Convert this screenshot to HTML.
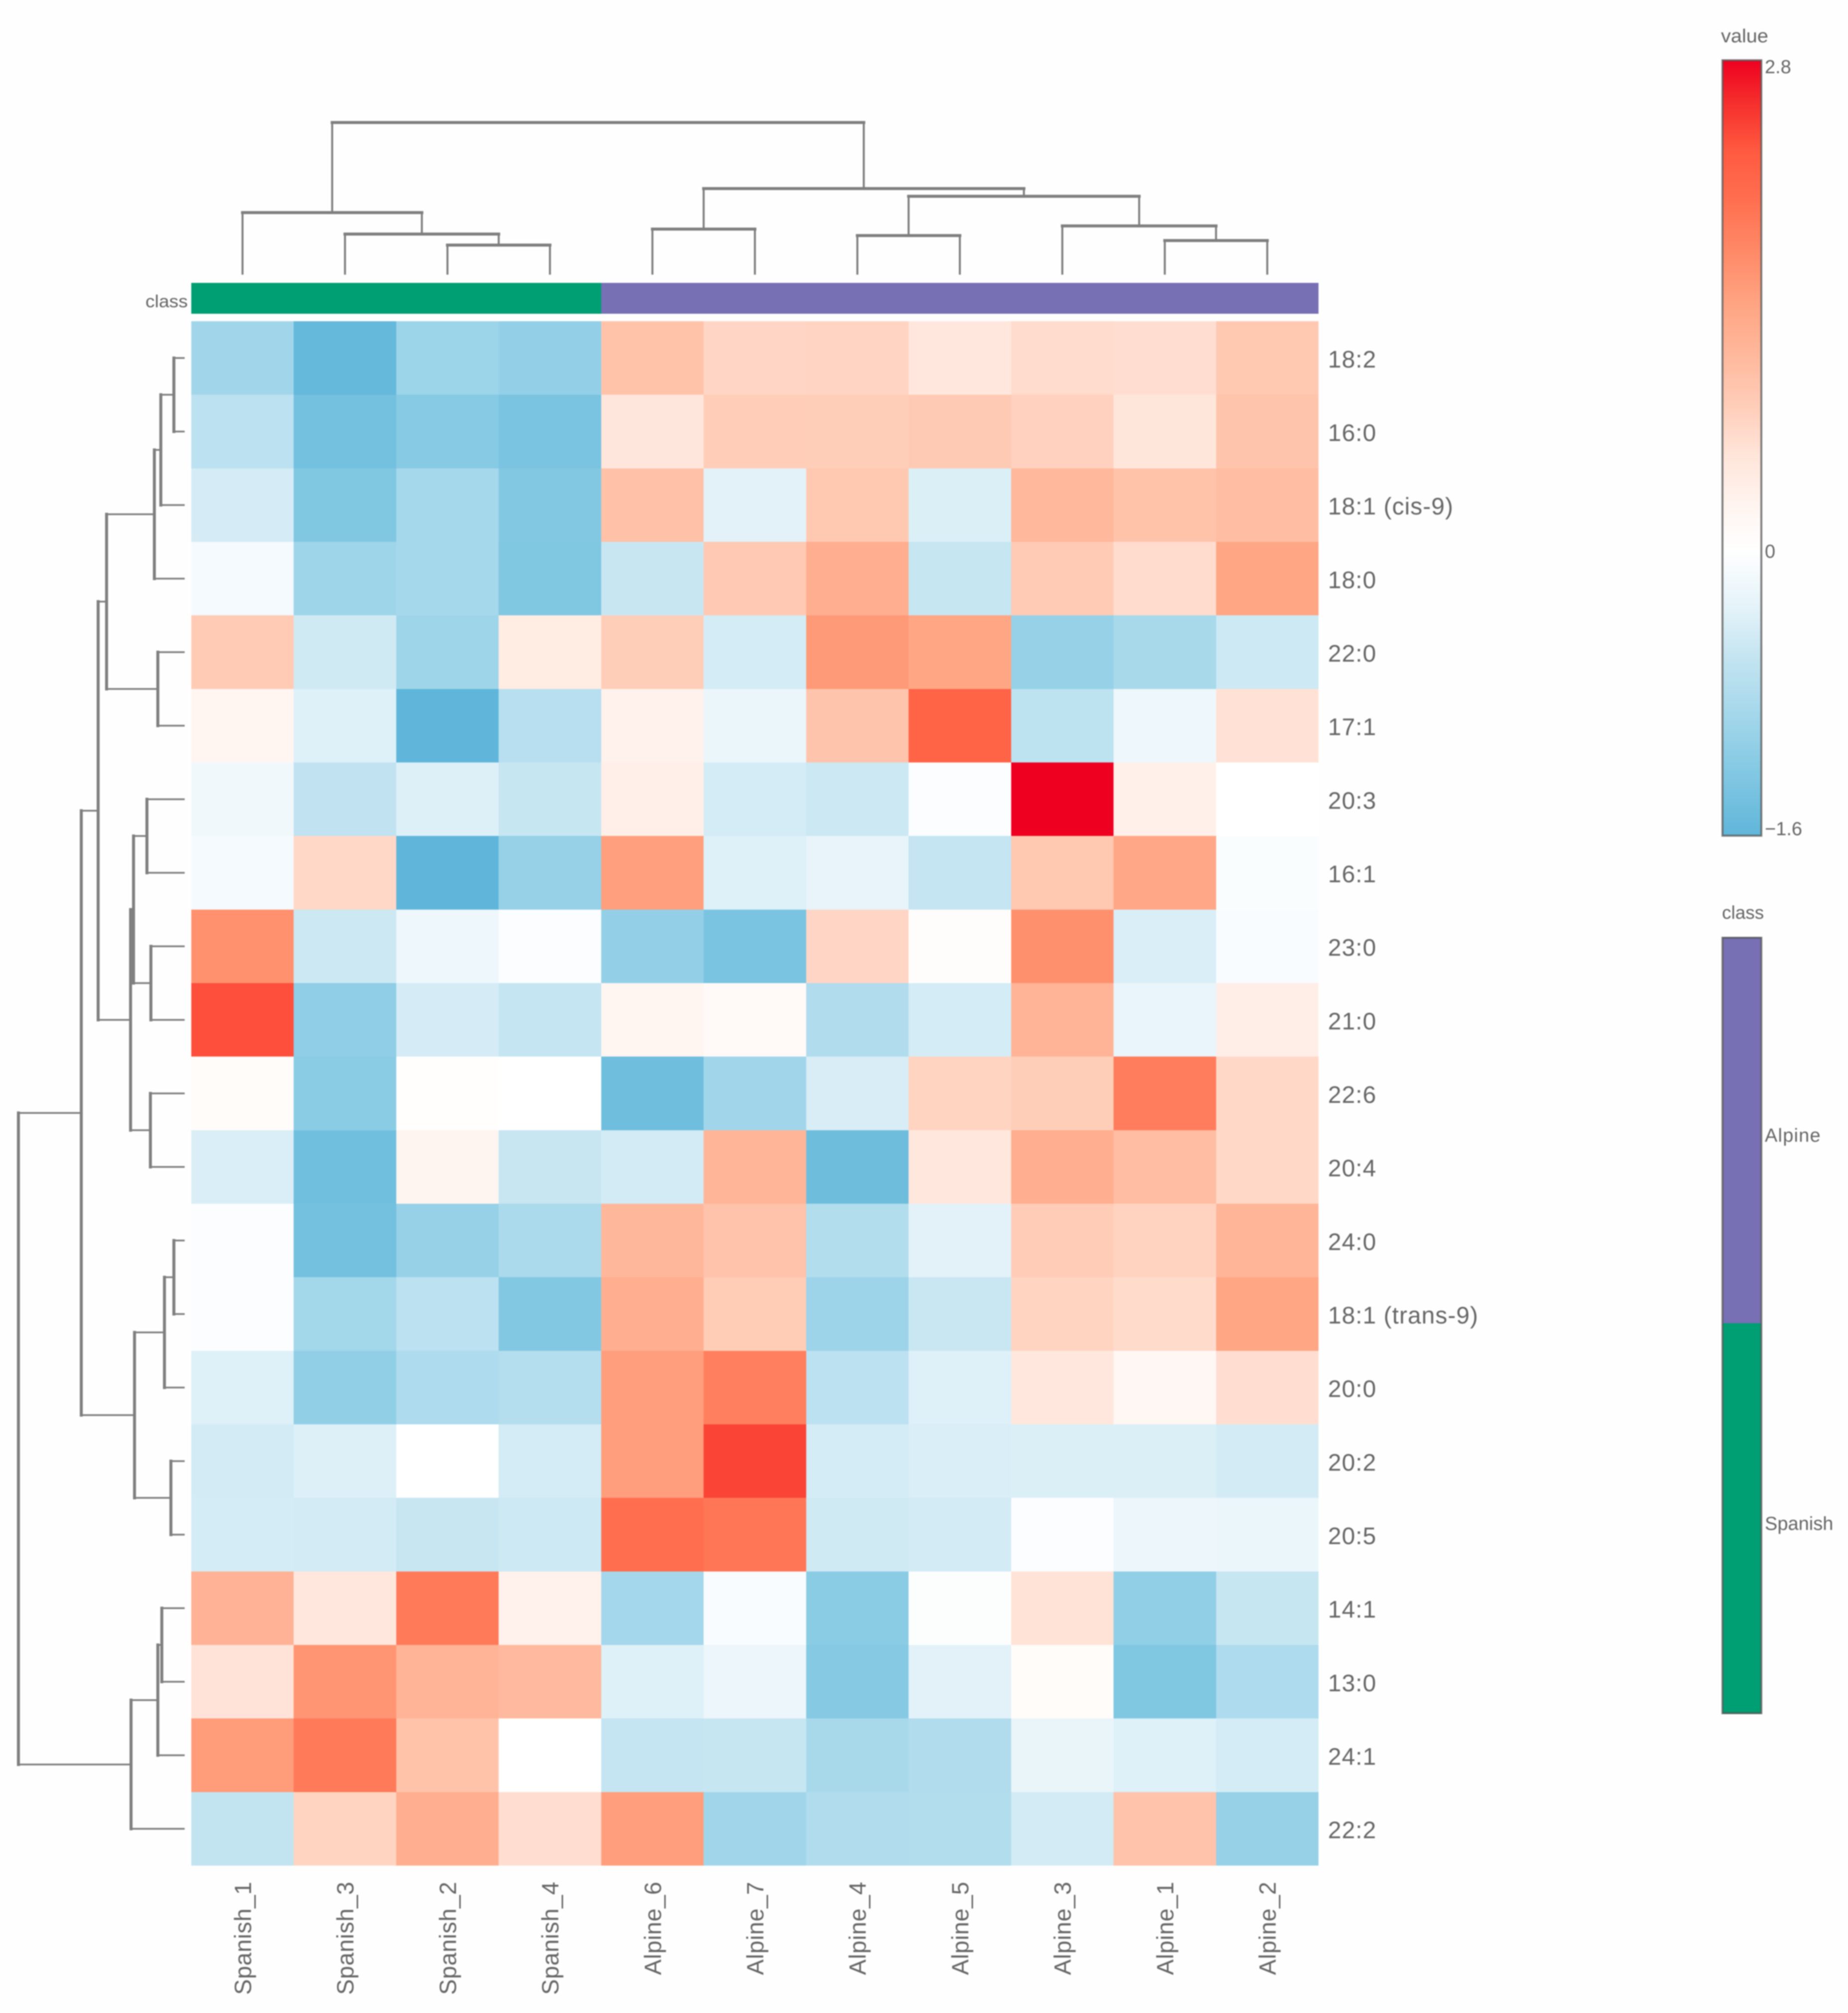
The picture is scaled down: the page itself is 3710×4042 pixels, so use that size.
<!DOCTYPE html>
<html lang="en">
<head>
<meta charset="utf-8">
<title>Clustered heatmap of fatty acids</title>
<style>
html,body{margin:0;padding:0;background:#fefefe;overflow:hidden;}
#chart{display:block;width:3710px;height:4042px;filter:blur(1px);}
text{font-family:"Liberation Sans",sans-serif;fill:#666;}
</style>
</head>
<body>
<svg id="chart" xmlns="http://www.w3.org/2000/svg" width="3710" height="4042" viewBox="0 0 3710 4042">
<defs><linearGradient id="cbar-gradient" gradientUnits="userSpaceOnUse" x1="0" x2="0" y1="120" y2="1679"></linearGradient></defs>
<rect width="3710" height="4042" fill="#fefefe"></rect>
<g id="top-dendro"></g>
<g id="left-dendro"></g>
<g id="annotation"></g>
<g id="cells"></g>
<g id="x-labels"></g>
<g id="y-labels"></g>
<g id="colorbar"></g>
<g id="class-legend"></g>
</svg>
<script>
const columns = ["Spanish_1","Spanish_3","Spanish_2","Spanish_4","Alpine_6","Alpine_7","Alpine_4","Alpine_5","Alpine_3","Alpine_1","Alpine_2"];
const rows = ["18:2","16:0","18:1 (cis-9)","18:0","22:0","17:1","20:3","16:1","23:0","21:0","22:6","20:4","24:0","18:1 (trans-9)","20:0","20:2","20:5","14:1","13:0","24:1","22:2"];
const columnClass = ["Spanish","Spanish","Spanish","Spanish","Alpine","Alpine","Alpine","Alpine","Alpine","Alpine","Alpine"];
const values = [
[-0.95,-1.55,-1.0,-1.08,0.97,0.72,0.74,0.5,0.65,0.62,0.9],
[-0.68,-1.4,-1.2,-1.33,0.52,0.83,0.82,0.87,0.78,0.53,0.95],
[-0.45,-1.27,-0.9,-1.25,1.0,-0.33,0.9,-0.4,1.12,0.97,1.05],
[-0.13,-0.97,-0.9,-1.27,-0.57,0.88,1.27,-0.58,0.86,0.65,1.38],
[0.86,-0.5,-0.97,0.42,0.82,-0.46,1.52,1.38,-1.05,-0.88,-0.52],
[0.22,-0.37,-1.6,-0.72,0.3,-0.24,0.95,2.15,-0.67,-0.2,0.58],
[-0.17,-0.63,-0.38,-0.58,0.35,-0.46,-0.54,-0.05,2.8,0.33,0],
[-0.13,0.7,-1.6,-1.05,1.47,-0.37,-0.27,-0.6,0.9,1.36,-0.06],
[1.62,-0.54,-0.2,-0.05,-1.08,-1.33,0.72,0.06,1.63,-0.42,-0.07],
[2.35,-1.12,-0.45,-0.6,0.22,0.12,-0.8,-0.46,1.18,-0.26,0.37],
[0.08,-1.16,0.03,0,-1.45,-0.95,-0.43,0.75,0.82,1.85,0.7],
[-0.42,-1.43,0.25,-0.57,-0.47,1.16,-1.46,0.5,1.27,1.05,0.7],
[-0.04,-1.4,-1.05,-0.86,1.13,0.98,-0.78,-0.33,0.84,0.76,1.16],
[-0.05,-0.93,-0.68,-1.24,1.25,0.85,-0.98,-0.56,0.75,0.66,1.38],
[-0.37,-1.1,-0.82,-0.76,1.48,1.82,-0.68,-0.37,0.5,0.2,0.62],
[-0.48,-0.38,0,-0.46,1.48,2.42,-0.46,-0.42,-0.4,-0.4,-0.47],
[-0.46,-0.48,-0.57,-0.52,2.0,1.92,-0.5,-0.48,-0.05,-0.22,-0.24],
[1.2,0.5,1.88,0.32,-0.92,-0.07,-1.17,-0.03,0.57,-1.1,-0.58],
[0.56,1.58,1.18,1.1,-0.37,-0.22,-1.22,-0.33,0.08,-1.27,-0.82],
[1.5,1.88,0.97,0,-0.6,-0.58,-0.88,-0.8,-0.25,-0.37,-0.46],
[-0.62,0.75,1.27,0.62,1.48,-0.95,-0.8,-0.78,-0.47,0.98,-1.05]
];
const columnMerges = [[2,3,1.89],[1,11,2.62],[0,12,4.04],[4,5,2.95],[6,7,2.52],[9,10,2.19],[8,16,3.16],[15,17,5.12],[14,18,5.63],[13,19,10]];
const rowMerges = [[0,1,0.6],[21,2,1.39],[22,3,1.78],[4,5,1.57],[23,24,4.67],[6,7,2.23],[8,9,1.99],[26,27,3.04],[10,11,2.02],[28,29,3.22],[25,30,5.18],[12,13,0.6],[32,14,1.17],[15,16,0.78],[33,34,2.98],[31,35,6.2],[17,18,1.33],[37,19,1.57],[38,20,3.19],[36,39,10]];
const colorbarTicks = [2.8,0,-1.6];
const colorbarTickLabels = ["2.8","0","\u22121.6"];
const scaleValues = [-1.6,-1.19,-0.9,-0.61,-0.33,0,0.25,0.54,0.83,1.12,1.41,1.7,1.99,2.28,2.57,2.8];
const scaleColors = ["#60b6da","#88cbe4","#a6d8eb","#c3e4f1","#e3f2f9","#ffffff","#fff5f0","#ffe5da","#ffcdb8","#ffb89c","#ffa482","#ff8a68","#ff7050","#ff5a40","#f52c2c","#ee0020"];
const legendClasses = ["Alpine","Spanish"];
const legendCounts = [1,1];

const NS = "http://www.w3.org/2000/svg";
const plot = {left:384,right:2647,top:645,bottom:3746};
const classColor = {Spanish:"#009e73",Alpine:"#7770b4"};

function xBand(i){return plot.left + (plot.right-plot.left)*i/columns.length;}
function yBand(j){return plot.top + (plot.bottom-plot.top)*j/rows.length;}
function xCenter(i){return xBand(i+0.5);}
function yCenter(j){return yBand(j+0.5);}
function topDendroY(h){return 549.5 - h*30.35;}
function leftDendroX(h){return 369 - h*33.2;}
function cbY(v){return v>=0 ? 120+(2.8-v)/2.8*985 : 1105+(-v)/1.6*574;}

function hex(c){return [1,3,5].map(k=>parseInt(c.substr(k,2),16));}
function colorOf(v){
  const n = scaleValues.length;
  if(v<=scaleValues[0]) return scaleColors[0];
  if(v>=scaleValues[n-1]) return scaleColors[n-1];
  let k = 0;
  while(scaleValues[k+1]<v) k++;
  const t = (v-scaleValues[k])/(scaleValues[k+1]-scaleValues[k]);
  const a = hex(scaleColors[k]), b = hex(scaleColors[k+1]);
  return "rgb("+a.map((x,m)=>Math.round(x+(b[m]-x)*t)).join(",")+")";
}
function make(tag,attrs,parent,content){
  const e = document.createElementNS(NS,tag);
  for(const k in attrs) e.setAttribute(k,attrs[k]);
  if(content!==undefined) e.textContent = content;
  parent.appendChild(e);
  return e;
}

/* heatmap cells */
const cellsG = document.getElementById("cells");
values.forEach((row,j)=>row.forEach((v,i)=>{
  const r = make("rect",{x:xBand(i),y:yBand(j),width:xBand(i+1)-xBand(i),height:yBand(j+1)-yBand(j),fill:colorOf(v),"shape-rendering":"crispEdges"},cellsG);
  
  
}));

/* annotation */
const annG = document.getElementById("annotation");
columnClass.forEach((c,i)=>{
  const r = make("rect",{x:xBand(i),y:568,width:xBand(i+1)-xBand(i),height:62,fill:classColor[c],"shape-rendering":"crispEdges"},annG);
  
  
});
const annLabel = make("text",{x:377,y:617,"text-anchor":"end","font-size":35,textLength:85,lengthAdjust:"spacingAndGlyphs"},annG,"class");



/* x labels */
const xG = document.getElementById("x-labels");
columns.forEach((c,i)=>{
  const cx = xCenter(i)+17;
  const t = make("text",{x:cx,y:3778,"font-size":47,"letter-spacing":0.6,"text-anchor":"end",transform:"rotate(-90 "+cx+" 3778)"},xG,c);
  
  
});

/* y labels */
const yG = document.getElementById("y-labels");
rows.forEach((c,j)=>{
  const t = make("text",{x:2666,y:yCenter(j)+19,"font-size":48,"letter-spacing":1},yG,c);
  
  
});

/* dendrograms */
function dendro(merges,nLeaves,leafPos,heightPos,group,vertical){
  const nodes = [];
  for(let i=0;i<nLeaves;i++) nodes.push({p:leafPos(i),h:0});
  merges.forEach(m=>{
    const a = nodes[m[0]], b = nodes[m[1]], h = m[2];
    const ha = heightPos(a.h), hb = heightPos(b.h), hn = heightPos(h);
    const stemW = vertical?4:3.5, barW = 6;
    const style = {stroke:"#7f7f7f",fill:"none","stroke-linecap":"square"};
    const s1 = make("line",Object.assign({},style,vertical?{x1:a.p,x2:a.p,y1:ha,y2:hn}:{y1:a.p,y2:a.p,x1:ha,x2:hn},{"stroke-width":stemW}),group);
    
    
    const s2 = make("line",Object.assign({},style,vertical?{x1:b.p,x2:b.p,y1:hb,y2:hn}:{y1:b.p,y2:b.p,x1:hb,x2:hn},{"stroke-width":stemW}),group);
    
    
    const s3 = make("line",Object.assign({},style,vertical?{x1:a.p,x2:b.p,y1:hn,y2:hn}:{y1:a.p,y2:b.p,x1:hn,x2:hn},{"stroke-width":barW}),group);
    
    
    nodes.push({p:(a.p+b.p)/2,h:h});
  });
}
dendro(columnMerges,columns.length,xCenter,topDendroY,document.getElementById("top-dendro"),true);
dendro(rowMerges,rows.length,yCenter,leftDendroX,document.getElementById("left-dendro"),false);

/* colorbar */
const grad = document.getElementById("cbar-gradient");
scaleValues.slice().reverse().forEach((v,k)=>{
  make("stop",{offset:(cbY(v)-120)/(1679-120),"stop-color":scaleColors[scaleColors.length-1-k]},grad);
});
const cbG = document.getElementById("colorbar");
const cbTitle = make("text",{x:3455,y:85,"font-size":38,textLength:95,lengthAdjust:"spacingAndGlyphs"},cbG,"value");


const cbRect = make("rect",{x:3458,y:121,width:78,height:1557,fill:"url(#cbar-gradient)",stroke:"#555","stroke-opacity":0.75,"stroke-width":4},cbG);


colorbarTicks.forEach((v,k)=>{
  const t = make("text",{x:3543,y:Math.min(1677,Math.max(147,cbY(v)+15)),"font-size":38},cbG,colorbarTickLabels[k]);
  
  
});

/* class legend */
const lgG = document.getElementById("class-legend");
const lgTitle = make("text",{x:3457,y:1845,"font-size":37},lgG,"class");


const lgTotal = legendCounts.reduce((a,b)=>a+b,0);
let lgAcc = 0;
legendClasses.forEach((c,k)=>{
  const y0 = 1882 + (3441-1882)*lgAcc/lgTotal*(775/779.5);
  lgAcc += legendCounts[k];
  const y1 = k===legendClasses.length-1 ? 3441 : 1882 + (3441-1882)*lgAcc/lgTotal*(775/779.5);
  const r = make("rect",{x:3458,y:y0,width:78,height:y1-y0,fill:classColor[c],"shape-rendering":"crispEdges"},lgG);
  
  
  const t = make("text",{x:3543,y:(y0+y1)/2+23,"font-size":38,"letter-spacing":c==="Alpine"?1.2:0},lgG,c);
  
  
});
const lgBorder = make("rect",{x:3458,y:1883,width:78,height:1557,fill:"none",stroke:"#555","stroke-opacity":0.75,"stroke-width":4},lgG);


</script>
</body>
</html>
